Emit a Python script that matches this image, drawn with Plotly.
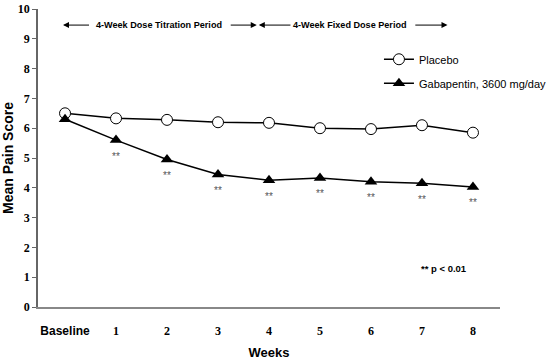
import plotly.graph_objects as go

weeks = ["Baseline", "1", "2", "3", "4", "5", "6", "7", "8"]
week_pos = list(range(9))
placebo = [6.5, 6.33, 6.28, 6.2, 6.18, 6.0, 5.97, 6.1, 5.85]
gabapentin = [6.3, 5.6, 4.95, 4.45, 4.25, 4.33, 4.2, 4.15, 4.03]
sig_flags = [False, True, True, True, True, True, True, True, True]
y_ticks = list(range(0, 11))

fig = go.Figure()
fig.add_trace(go.Scatter(
    x=week_pos, y=placebo, mode="lines+markers", name="Placebo", legendgroup="a",
    line=dict(color="black", width=1.5),
    marker=dict(symbol="circle", size=11, color="white", line=dict(color="black", width=1)),
))
fig.add_trace(go.Scatter(
    x=week_pos, y=gabapentin, mode="lines+markers", name="Gabapentin, 3600 mg/day", legendgroup="b",
    line=dict(color="black", width=1.5),
    marker=dict(symbol="triangle-up", size=11, color="black"),
))

annotations = []
for xv, yv, s in zip(week_pos, gabapentin, sig_flags):
    if s:
        annotations.append(dict(x=xv, y=yv, text="**", showarrow=False, yshift=-16,
                                font=dict(family="Arial", size=10, color="#555555")))

ay = 9.46
arrow_font = dict(family="Arial", size=9.1, color="black")
annotations.append(dict(x=1.84, y=ay, text="<b>4-Week Dose Titration Period</b>", showarrow=False, font=arrow_font))
annotations.append(dict(x=5.59, y=ay, text="<b>4-Week Fixed Dose Period</b>", showarrow=False, font=arrow_font))
for x0, x1 in [(0.5, -0.04), (3.22, 3.76), (4.45, 3.8), (6.84, 7.5)]:
    annotations.append(dict(x=x1, y=ay, ax=x0, ay=ay, axref="x", ayref="y", xref="x", yref="y",
                            text="", showarrow=True, arrowhead=2, arrowsize=1.2, arrowwidth=1,
                            arrowcolor="black", standoff=0, startstandoff=0))
annotations.append(dict(x=7.43, y=1.3, text="<b>** p < 0.01</b>", showarrow=False,
                        font=dict(family="Arial", size=9.5, color="black")))

ticktext = ['<span style="font-family:Arial">Baseline</span>'] + weeks[1:]

fig.update_layout(
    width=548, height=362,
    margin=dict(l=38, r=48, t=9, b=55, autoexpand=False),
    paper_bgcolor="white", plot_bgcolor="white",
    showlegend=True,
    legend=dict(x=0.738, y=0.88, xanchor="left", yanchor="top", bgcolor="rgba(0,0,0,0)",
                font=dict(family="Arial", size=11, color="black"), tracegroupgap=5,
                itemwidth=30),
    annotations=annotations,
    xaxis=dict(
        range=[-0.53, 8.53], tickvals=week_pos, ticktext=ticktext, automargin=False,
        tickfont=dict(family="Times New Roman, Liberation Serif", size=12, color="black", weight="bold"),
        showline=True, linecolor="#888888", linewidth=1.5, showgrid=False, zeroline=False,
        ticks="", ticklabelstandoff=12,
        title=dict(text="<b>Weeks</b>", font=dict(family="Arial", size=13, color="black"), standoff=11),
    ),
    yaxis=dict(
        range=[0, 10], tickvals=y_ticks, automargin=False,
        tickfont=dict(family="Times New Roman, Liberation Serif", size=12, color="black", weight="bold"),
        showline=True, linecolor="#666666", linewidth=1.5, showgrid=False, zeroline=False,
        ticks="outside", ticklen=4, tickcolor="#666666",
        title=dict(text="<b>Mean Pain Score</b>", font=dict(family="Arial", size=14, color="black"), standoff=3),
    ),
)

fig.write_html("out.html", config={"displayModeBar": False},
               post_script="document.body.style.margin='0';")
